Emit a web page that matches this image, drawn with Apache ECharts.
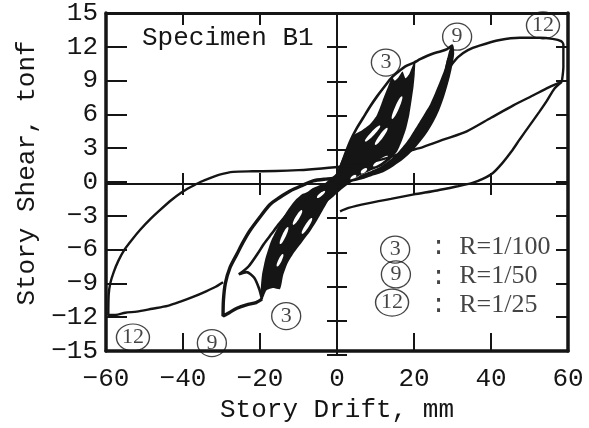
<!DOCTYPE html>
<html>
<head>
<meta charset="utf-8">
<script src="https://cdn.jsdelivr.net/npm/echarts@6/dist/echarts.min.js"></script>
<style>html,body{margin:0;padding:0;background:#fff}#c{width:589px;height:428px}</style>
</head>
<body>
<div id="c"></div>
<script>
// ---------- tick labels ----------
const xTicks = [-60, -40, -20, 0, 20, 40, 60];
const yTicks = [-15, -12, -9, -6, -3, 0, 3, 6, 9, 12, 15];

// ---------- R=1/25 cycle (drift mm, shear tonf) ----------
const loop12Envelope = [[29.5,10.3],[31.5,11.1],[34,11.7],[37,12.1],[42.3,12.6],[47.5,12.8],[52.7,12.8],[56,12.7],[58.2,12.5],[58.8,12.2],[58.8,10.2],[58.4,8.9]];
const loop12Unload = [[58.4,8.9],[56.5,8.3],[54.5,7.2],[52.5,6.2],[50,5],[47.5,3.8],[45.3,2.7],[43,1.7],[40.5,0.8],[38,0.3],[35,-0.1],[31,-0.4],[26,-0.75],[20,-1.1],[14,-1.5],[8,-1.9],[3,-2.3],[0.8,-2.6]];
const loop12Reverse = [[58.4,8.9],[55,8.4],[51,7.7],[45.8,6.8],[40,5.7],[33.7,4.5],[28,3.8],[22.3,3.1],[18,2.7],[13.8,2.2],[8,1.7],[2,1.4],[-4,1.2],[-10,1.05],[-16,0.97],[-22,0.95],[-27,0.9],[-30.5,0.65],[-33,0.35],[-35.5,0],[-38,-0.45],[-40.5,-0.95],[-43,-1.6],[-46,-2.5],[-48.5,-3.3],[-51,-4.2],[-53.2,-5.1],[-55.2,-6.0],[-56.8,-7],[-58,-8],[-58.9,-9],[-59.3,-10],[-59.4,-11.8],[-57.5,-11.8],[-55,-11.6],[-52,-11.5],[-48,-11.25],[-44,-11],[-40.5,-10.6],[-37.4,-10.2],[-34,-9.7],[-31.5,-9.3],[-29.6,-8.9]];

// ---------- R=1/50 cycles ----------
const loop9Pos = [[0,0.3],[1.5,1.9],[3.4,3.6],[5,4.7],[6.8,5.7],[8.6,6.7],[10.4,7.6],[12.4,8.5],[14.3,9.3],[16,9.8],[18,10.3],[20,10.6],[21.6,10.9],[23.5,11.2],[25,11.4],[27,11.6],[28.6,11.8],[29.9,12.1],[30.1,11.4],[29.7,10.5],[29,9.4],[28.2,8.4],[27.3,7.4],[26.2,6.4],[24.8,5.4],[23.4,4.6],[21.5,3.7],[19.5,2.9],[17,2.1],[14.5,1.5],[12,1],[9.5,0.7],[7,0.4],[4,0.15],[0,-0.2]];
const loop9Neg = [[0.8,0.35],[-3,0.25],[-6.2,0.1],[-9,-0.3],[-12.2,-0.8],[-15,-1.4],[-17.4,-2],[-20,-3.1],[-22.6,-4.3],[-24.5,-5.4],[-26,-6.4],[-27.8,-7.6],[-29,-9],[-29.5,-10.5],[-29.6,-11.9],[-28,-11.6],[-26,-11.2],[-23.5,-10.9],[-21,-10.7],[-19.5,-10.4]];
const loop9NegInner = [[-2,-0.5],[-5,-0.9],[-8,-1.5],[-10.5,-2.2],[-13,-2.9],[-15,-3.7],[-17,-4.6],[-19,-5.5],[-20.5,-6.3],[-23,-7.5],[-25.5,-8.2],[-23.5,-8.0],[-21.5,-8.5],[-20.2,-9.5],[-19.5,-10.4]];
const loop9PosBand = [[30,12],[30.1,11.4],[29.7,10.5],[29,9.4],[28.2,8.4],[27.3,7.4],[26.2,6.4],[24.8,5.4],[23.4,4.6],[21.5,3.7],[19.5,2.9],[17,2.1],[14.5,1.5],[12,1],[9.5,0.7],[7,0.4],[5,0.3],[6,0.6],[9,1],[11,1.3],[13.5,1.9],[15.5,2.5],[17.5,3.3],[19,4],[21,5.1],[22.8,6.1],[24.2,6.9],[25.6,8],[26.8,9],[28,10.1],[28.8,11.2],[29.4,11.9]];
const loop9BandGap = [[28.8,11],[27.6,9.2],[26.2,7.6],[24.6,6.2],[22.8,5],[20.8,3.9],[18.5,3]];

// ---------- R=1/100 and smaller cycles (dense region) ----------
const densePos = [[-1.5,-0.4],[-0.3,0.7],[1.2,1.9],[2.8,3.1],[4.5,4.2],[6.5,4.6],[8.5,5.1],[10.3,5.9],[11.8,7.2],[13.2,8.4],[14.3,9.3],[15,9],[16,9.3],[17,9.8],[17.8,9.2],[18.8,9.6],[20.3,10.8],[20.2,9.6],[19.9,8.5],[19.4,7.3],[18.8,6],[18,4.8],[17,3.8],[15.6,2.7],[13.8,2],[11.5,1.4],[8.6,1],[6,0.6],[3.4,0.3],[1,0],[-1.5,-0.7]];
const denseNeg = [[1,0.3],[-2,0],[-5,-0.35],[-8,-0.8],[-10.8,-1.6],[-13,-2.6],[-15.2,-3.9],[-17.2,-5.3],[-18.6,-6.8],[-19.5,-8.3],[-19.8,-9.6],[-19.5,-10.5],[-18.3,-9.6],[-16.5,-9.4],[-14.8,-9.5],[-14,-8.3],[-12.8,-7.2],[-11,-6.2],[-9,-5.3],[-7,-4.4],[-5,-3.3],[-3,-2.1],[-1,-1],[1,-0.3]];
const denseCentre = [[-7,-1.4],[-4,-0.4],[-1,0.5],[2,1.4],[5,1.6],[7,1.1],[4.5,0.2],[1,-0.7],[-2,-1.6],[-5,-2.2]];
const gapsPos = [
  [[9.9,3.3],[11.92,3.95],[13.1,4.8],[11.08,4.15]],
  [[14.3,5.6],[16.05,6.5],[16.9,7.6],[15.15,6.7]],
  [[7.3,3.6],[9.65,4.2],[11.2,5.0],[8.85,4.4]],
  [[3.5,0.2],[4.45,0.25],[5,0.6],[4.05,0.55]],
  [[9.4,1.4],[11.6,1.71],[13.2,2.3],[11,1.99]],
  [[6.2,0.8],[7.2,0.85],[7.8,1.2],[6.8,1.15]]
];
const gapsNeg = [
  [[-9.1,-1],[-7.39,-0.81],[-6.2,-0.35],[-7.91,-0.55]],
  [[-5.2,-1.4],[-3.95,-1.22],[-3.1,-0.8],[-4.35,-0.98]],
  [[-11.4,-3.8],[-9.85,-3.25],[-9.1,-2.5],[-10.65,-3.05]],
  [[-14.8,-5.5],[-13.35,-4.85],[-12.7,-4],[-14.15,-4.65]],
  [[-15.6,-7.5],[-14.45,-7.05],[-14,-6.4],[-15.15,-6.85]],
  [[-9.1,-4.6],[-7.4,-4.0],[-6.5,-3.2],[-8.2,-3.8]]
];

// ---------- cycle number marks & key ----------
const cycleMarks = [
  {name:'3', value:[12.7,10.6]}, {name:'9', value:[31.2,12.9]}, {name:'12', value:[53.5,13.9]},
  {name:'12', value:[-53,-13.8]}, {name:'9', value:[-32.5,-14.3]}, {name:'3', value:[-13.2,-11.9]},
  {name:'3', value:[15.1,-6.0]}, {name:'9', value:[15.3,-8.2]}, {name:'12', value:[14.3,-10.7]}
];
const keyRows = [
  {name:'R=1/100', value:[24.2,-5.8]}, {name:'R=1/50', value:[24.2,-8.4]}, {name:'R=1/25', value:[24.2,-10.9]}
];

const INK = '#151515';
const mono = 'Liberation Mono';
const minusFmt = v => String(v).replace('-', '\u2212');
const xMin = xTicks[0], xMax = xTicks[xTicks.length-1], xStep = xTicks[1]-xTicks[0];
const yMin = yTicks[0], yMax = yTicks[yTicks.length-1], yStep = yTicks[1]-yTicks[0];
const g = {left:106, right:21, top:13, bottom:73};

function lineS(data, width) {
  return {type:'line', data, xAxisIndex:0, yAxisIndex:0, showSymbol:false, symbol:'none',
    smooth:0.25, lineStyle:{color:INK, width}, z:4, silent:true};
}
function polyS(polys, fill, z, smooth) {
  return {type:'custom', coordinateSystem:'cartesian2d', xAxisIndex:0, yAxisIndex:0, silent:true, z,
    data: polys.map((p,i)=>[p[0][0], p[0][1], i]), encode:{x:0, y:1},
    renderItem:(params, api) => {
      const p = polys[api.value(2)];
      return {type:'polygon', shape:{points:p.map(pt=>api.coord(pt)), smooth}, style:{fill, stroke:null}};
    }};
}
function xAx(grid, pos, lineW, tickLen, inside, extra) {
  return Object.assign({type:'value', gridIndex:grid, position:pos, min:xMin, max:xMax, interval:xStep,
    axisLine:{show:true, onZero:grid>0, lineStyle:{color:INK, width:lineW}},
    axisTick:{show:true, inside, length:tickLen, lineStyle:{color:INK, width:2}},
    axisLabel:{show:false}, splitLine:{show:false}}, extra||{});
}
function yAx(grid, pos, lineW, tickLen, inside, extra) {
  return Object.assign({type:'value', gridIndex:grid, position:pos, min:yMin, max:yMax, interval:yStep,
    axisLine:{show:true, onZero:grid>0, lineStyle:{color:INK, width:lineW}},
    axisTick:{show:true, inside, length:tickLen, lineStyle:{color:INK, width:2}},
    axisLabel:{show:false}, splitLine:{show:false}}, extra||{});
}

const chart = echarts.init(document.getElementById('c'), null, {renderer:'canvas'});
chart.setOption({
  animation:false,
  backgroundColor:'#ffffff',
  title:{text:'Specimen B1', left:142, top:25, padding:0,
    textStyle:{fontFamily:mono, fontSize:26, fontWeight:'normal', color:INK}},
  grid:[g, g, g],
  xAxis:[
    xAx(0,'bottom',3.5,18,true,{axisLabel:{show:true, fontFamily:mono, fontSize:26, color:INK, margin:15, formatter:minusFmt},
      name:'Story Drift, mm', nameLocation:'middle', nameGap:46, nameTextStyle:{fontFamily:mono, fontSize:26, color:INK}}),
    xAx(0,'top',3,12,true),
    xAx(1,'bottom',1.8,11,true),
    xAx(2,'bottom',1.8,11,false)
  ],
  yAxis:[
    yAx(0,'left',3.5,21,true,{axisLabel:{show:true, fontFamily:mono, fontSize:26, color:INK, margin:8, formatter:minusFmt},
      name:'Story Shear, tonf', nameLocation:'middle', nameGap:66, nameRotate:90,
      nameTextStyle:{fontFamily:mono, fontSize:26, color:INK, padding:[0,0,0,18]}}),
    yAx(0,'right',3.5,12,true),
    yAx(1,'left',1.8,10,true),
    yAx(2,'left',1.8,10,false)
  ],
  series:[
    polyS([denseCentre, densePos, denseNeg, loop9PosBand], INK, 2, 0.2),
    polyS(gapsPos.concat(gapsNeg), '#ffffff', 3, 0.6),
    lineS(loop9BandGap, 1.2),
    lineS(loop12Envelope, 2.4),
    lineS(loop12Unload, 2.4),
    lineS(loop12Reverse, 2.4),
    lineS(loop9Pos, 2.6),
    lineS(loop9Neg, 3.4),
    lineS(loop9NegInner, 2.6),
    {type:'scatter', xAxisIndex:0, yAxisIndex:0, silent:true, z:6,
      data: cycleMarks.map(m=>({name:m.name, value:m.value, symbolSize: m.name.length>1 ? [33,27] : [29,27]})),
      itemStyle:{color:'rgba(0,0,0,0)', borderColor:INK, borderWidth:1.3},
      label:{show:true, position:'inside', formatter:'{b}', fontFamily:'Liberation Serif', fontSize:22, color:INK}},
    {type:'scatter', xAxisIndex:0, yAxisIndex:0, silent:true, z:6, symbolSize:1,
      data: keyRows.map(r=>({name:r.name, value:r.value})),
      itemStyle:{color:'rgba(0,0,0,0)'},
      label:{show:true, position:'right', distance:0, formatter:p=>'{c|:}{r|  '+p.name+'}',
        rich:{c:{fontFamily:mono, fontSize:26, color:INK}, r:{fontFamily:'Liberation Serif', fontSize:26, color:INK}}}}
  ]
});
</script>
</body>
</html>
